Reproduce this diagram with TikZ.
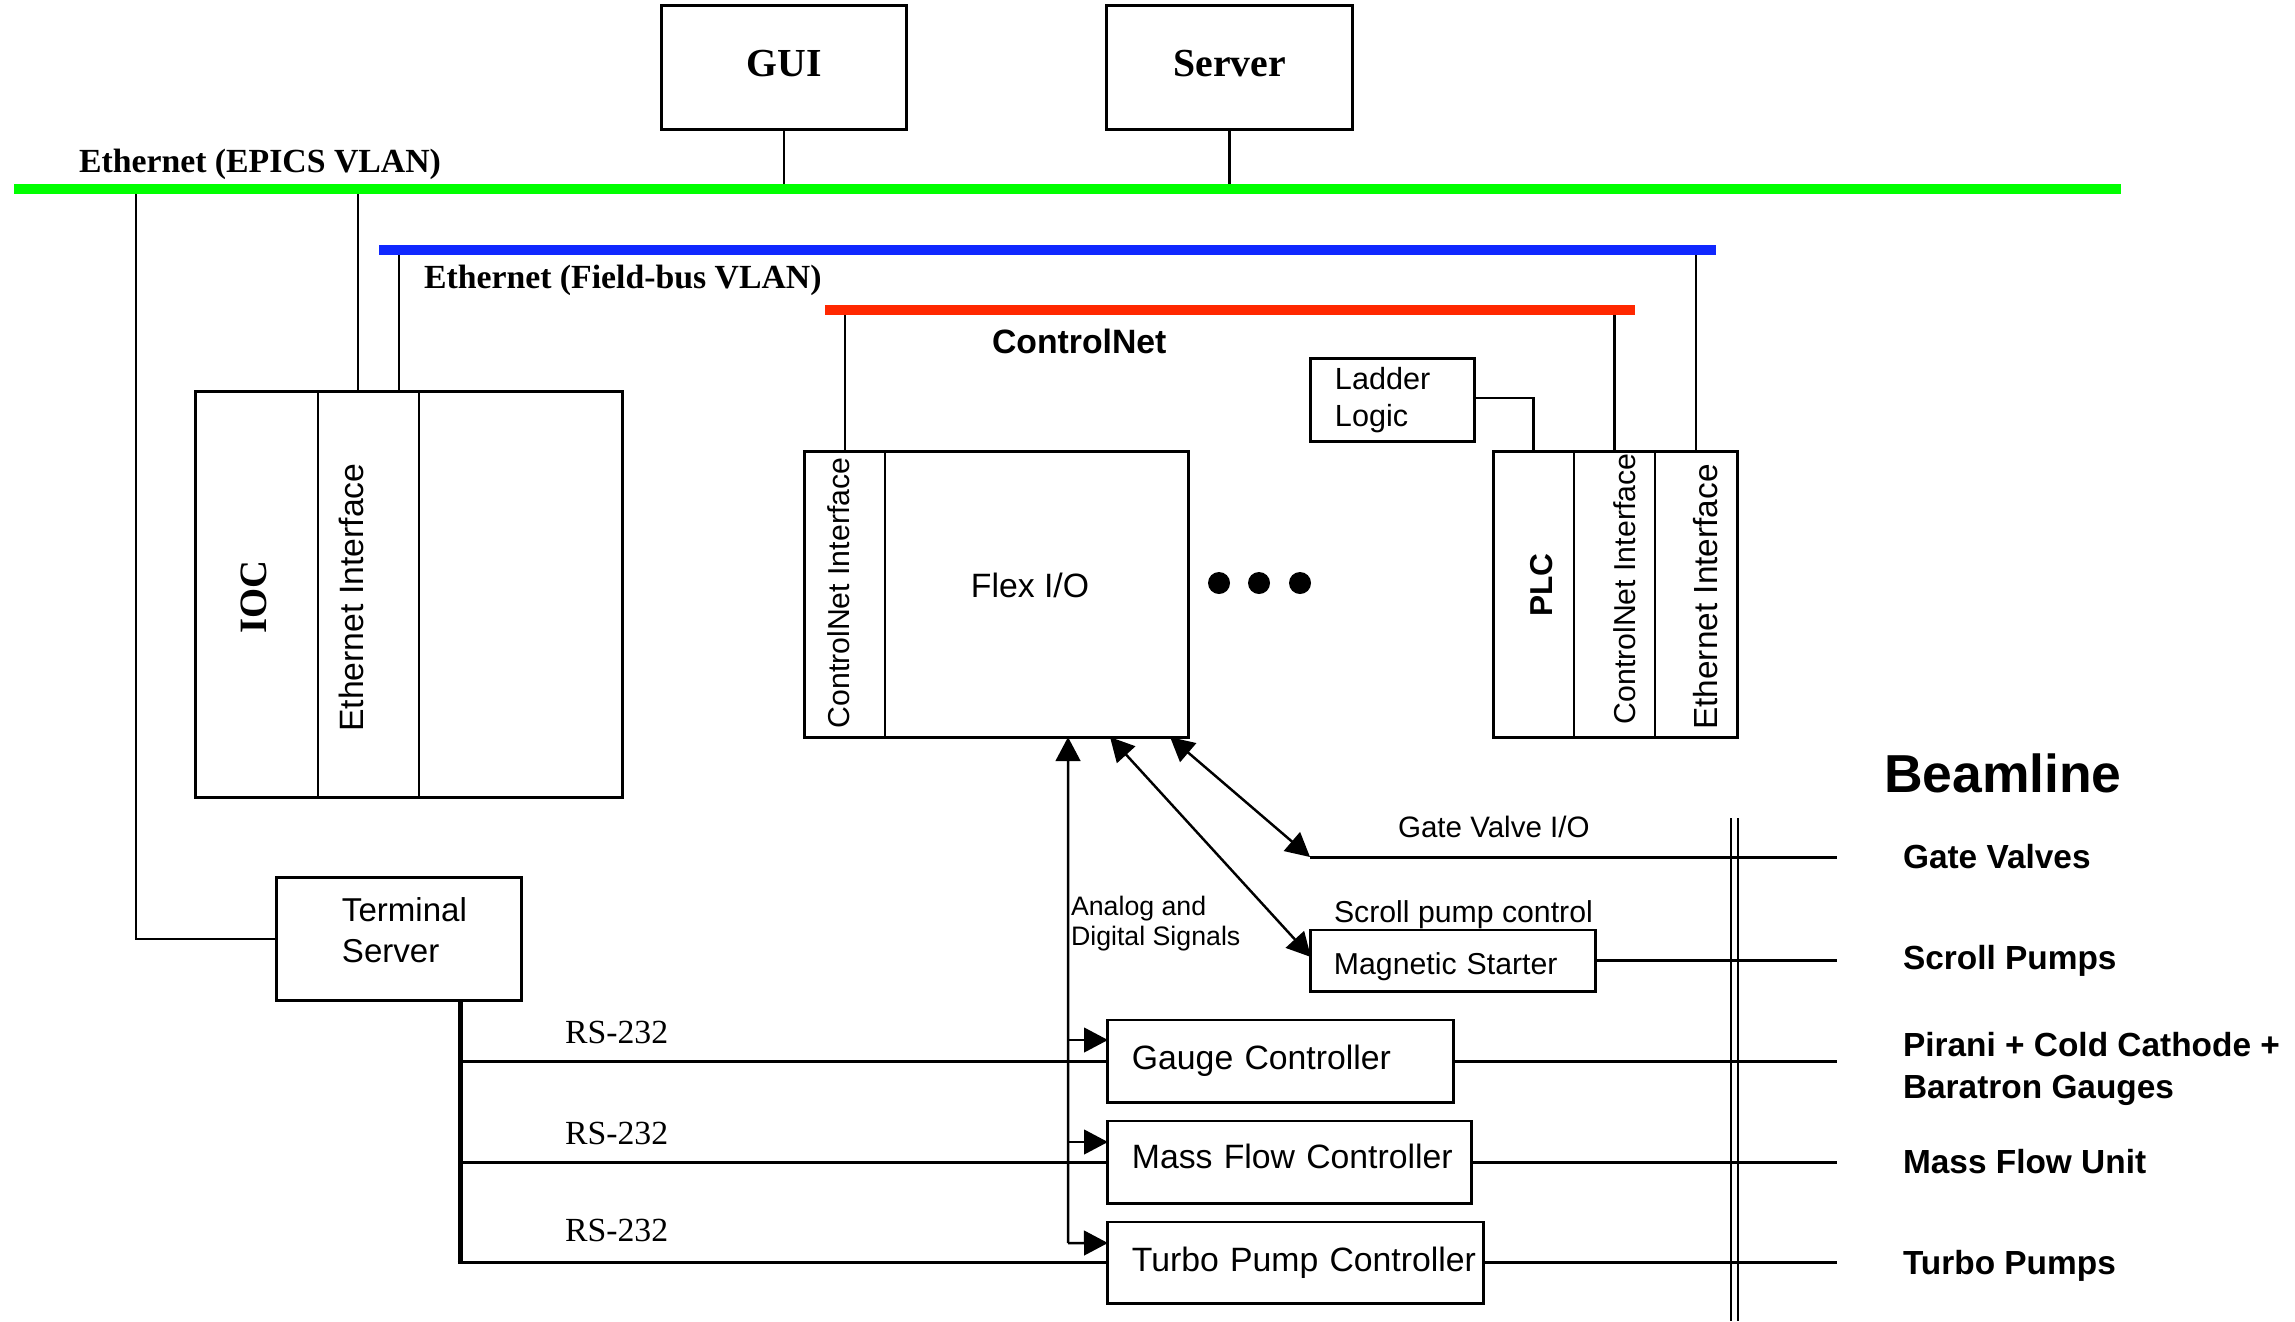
\documentclass[tikz,border=0pt]{standalone}
\usepackage{fontspec}
\setmainfont{Liberation Serif}
\setsansfont{Liberation Sans}
\usetikzlibrary{arrows.meta}
\definecolor{busgreen}{RGB}{0,255,0}
\definecolor{busblue}{RGB}{16,40,255}
\definecolor{busred}{RGB}{255,40,0}
\newcommand{\ind}[1]{\hspace*{#1}}
\begin{document}
\begin{tikzpicture}[x=0.01cm,y=-0.01cm,
  >={Triangle[length=6.8pt,width=7pt]},
  cell/.style={draw, line width=0.55pt, inner sep=0pt, outer sep=0pt},
  frame/.style={line width=0.85pt},
  box/.style={draw, line width=0.85pt, inner sep=0pt, outer sep=0pt},
  lbox/.style={draw, line width=0.85pt, inner sep=0pt, outer sep=0pt, align=left},
  lab/.style={inner sep=0pt, outer sep=0pt},
  drop/.style={line width=0.6pt},
  sig/.style={line width=0.85pt},
  tsline/.style={line width=1.4pt},
  arrl/.style={line width=0.7pt},
  bus/.style={line width=2.85pt},
  sfA/.style={font=\sffamily\fontsize{9.6pt}{11.5pt}\selectfont},
  sfS/.style={font=\sffamily\fontsize{8.6pt}{10.5pt}\selectfont},
  sfB/.style={font=\sffamily\bfseries\fontsize{9.5pt}{12pt}\selectfont},
  rmB/.style={font=\rmfamily\bfseries\fontsize{9.6pt}{11.5pt}\selectfont},
  rmT/.style={font=\rmfamily\bfseries\fontsize{11.3pt}{13pt}\selectfont},
  rmN/.style={font=\rmfamily\fontsize{9.6pt}{11.5pt}\selectfont},
  dotnode/.style={circle, fill, inner sep=0pt, minimum size=0.22cm}
]
\useasboundingbox[fill=white] (0,0) rectangle (2295,1321);

% ---- bus coordinates
\coordinate (gL) at (14,189);   \coordinate (gR) at (2121,189);
\coordinate (bL) at (379,250);  \coordinate (bR) at (1716,250);
\coordinate (rL) at (825,310);  \coordinate (rR) at (1635,310);

% ---- top boxes
\node[box, rmT, text depth=2.6pt, minimum width=2.44cm, minimum height=1.23cm] (gui) at (784,67.5) {GUI};
\node[box, rmT, text depth=2.6pt, minimum width=2.45cm, minimum height=1.23cm] (server) at (1229.5,67.5) {Server};

% ---- IOC
\node[cell, minimum width=1.22cm, minimum height=4.05cm] (iocA) at (257,594.5) {};
\node[cell, minimum width=1.01cm, minimum height=4.05cm] (iocB) at (368.5,594.5) {};
\node[cell, minimum width=2.03cm, minimum height=4.05cm] (iocC) at (520.5,594.5) {};
\draw[frame] (iocA.north west) rectangle (iocC.south east);
\node[lab, rotate=90, anchor=base, font=\rmfamily\bfseries\fontsize{11pt}{13pt}\selectfont] (iocT) at (266,597) {IOC};
\node[lab, rotate=90, anchor=base, sfA] (iocE) at (363,597.5) {Ethernet Interface};

% ---- Flex I/O
\node[cell, minimum width=0.80cm, minimum height=2.85cm] (flexA) at (845,594.5) {};
\node[cell, minimum width=3.03cm, minimum height=2.85cm] (flexB) at (1036.5,594.5) {};
\draw[frame] (flexA.north west) rectangle (flexB.south east);
\node[lab, sfA] (flexT) at (1030,585) {Flex I/O};
\node[lab, rotate=90, anchor=base, sfS] (flexC) at (849,593) {ControlNet Interface};

% ---- PLC
\node[cell, minimum width=0.81cm, minimum height=2.85cm] (plcA) at (1533.5,594.5) {};
\node[cell, minimum width=0.81cm, minimum height=2.85cm] (plcB) at (1614.5,594.5) {};
\node[cell, minimum width=0.82cm, minimum height=2.85cm] (plcC) at (1696,594.5) {};
\draw[frame] (plcA.north west) rectangle (plcC.south east);
\node[lab, rotate=90, anchor=base, font=\sffamily\bfseries\fontsize{9pt}{11pt}\selectfont] (plcT) at (1552,585) {PLC};
\node[lab, rotate=90, anchor=base, sfS] (plcCn) at (1635,589) {ControlNet Interface};
\node[lab, rotate=90, anchor=base, font=\sffamily\fontsize{9.5pt}{11pt}\selectfont] (plcE) at (1717,597) {Ethernet Interface};

% ---- Ladder logic
\node[lbox, text width=1.63cm, minimum height=0.82cm, font=\sffamily\fontsize{8.7pt}{10.5pt}\selectfont] (ladder) at (1392.5,400) {\ind{0.24cm}Ladder\\\ind{0.24cm}Logic};

% ---- dots
\node[dotnode] (dot1) at (1219,583) {};
\node[dotnode] (dot2) at (1259,583) {};
\node[dotnode] (dot3) at (1300,583) {};

% ---- terminal server and devices
\node[lbox, text width=2.44cm, text depth=16.5pt, minimum height=1.22cm, font=\sffamily\fontsize{9.4pt}{11.4pt}\selectfont] (term) at (399,939) {\ind{0.65cm}Terminal\\\ind{0.65cm}Server};
\node[lbox, sfS, text width=2.84cm, text height=10pt, minimum height=0.61cm] (mag) at (1453,960.5) {\ind{0.23cm}Magnetic Starter};
\node[lbox, sfA, text width=3.45cm, minimum height=0.82cm] (gauge) at (1280.5,1061) {\ind{0.24cm}Gauge Controller};
\node[lbox, sfA, text width=3.63cm, text depth=3pt, minimum height=0.82cm] (mass) at (1289.5,1162) {\ind{0.24cm}Mass Flow Controller};
\node[lbox, sfA, text width=3.75cm, minimum height=0.81cm] (turbo) at (1295.5,1262.5) {\ind{0.24cm}Turbo Pump Controller};

% ---- drops from buses (drawn before buses)
\draw[drop] (gui.south) -- (gui.south |- gL);
\draw[drop] (server.south) -- (server.south |- gL);
\coordinate (d1) at ([xshift=-0.105cm]iocB.north);
\coordinate (d2) at ([xshift=0.305cm]iocB.north);
\draw[drop] (d1) -- (d1 |- gL);
\draw[drop] (d2) -- (d2 |- bL);
\coordinate (tdrop) at (136,189);
\draw[drop] (tdrop) |- (term.west);
\draw[drop] (flexA.north) -- (flexA.north |- rL);
\draw[drop] (plcB.north) -- (plcB.north |- rL);
\draw[drop] (plcC.north) -- (plcC.north |- bL);
\draw[drop] ([yshift=0.02cm]ladder.east) -| (plcA.north);

% ---- buses
\draw[bus, busgreen] (gL) -- (gR);
\draw[bus, busblue] (bL) -- (bR);
\draw[bus, busred] (rL) -- (rR);

% ---- bus labels
\node[lab, anchor=base west, rmB] (ethE) at (79,172) {Ethernet (EPICS VLAN)};
\node[lab, anchor=base west, rmB] (ethF) at (424,288) {Ethernet (Field-bus VLAN)};
\node[lab, anchor=base west, font=\sffamily\bfseries\fontsize{9.6pt}{11.5pt}\selectfont] (cnet) at (992,353) {ControlNet};

% ---- RS-232 from terminal server
\coordinate (tsb) at ([xshift=0.61cm]term.south);
\draw[tsline] (tsb) -- (tsb |- turbo.west);
\draw[sig] (tsb |- gauge.west) -- (gauge.west);
\draw[sig] (tsb |- mass.west) -- (mass.west);
\draw[sig] ([xshift=-0.7pt]tsb |- turbo.west) -- (turbo.west);
\node[lab, anchor=base west, rmN] (rs1) at (565,1043) {RS-232};
\node[lab, anchor=base west, rmN] (rs2) at (565,1144) {RS-232};
\node[lab, anchor=base west, rmN] (rs3) at (565,1241) {RS-232};

% ---- analog and digital signals
\coordinate (abus) at (1068,1243);
\coordinate (gaugeIn) at ([yshift=0.21cm]gauge.west);
\coordinate (massIn) at ([yshift=0.20cm]mass.west);
\coordinate (turboIn) at ([yshift=0.195cm]turbo.west);
\draw[arrl,->] (abus) -- ([xshift=1.83cm]flexB.south west);
\draw[arrl,->] (abus |- gaugeIn) -- (gaugeIn);
\draw[arrl,->] (abus |- massIn) -- (massIn);
\draw[arrl,->] (abus) -- (turboIn);
\node[lab, anchor=north west, align=left, font=\sffamily\fontsize{7.6pt}{8.5pt}\selectfont] (anl) at (1071,896) {Analog and\\Digital Signals};

% ---- scroll pump control and gate valve I/O
\draw[arrl,<->] ([xshift=2.25cm]flexB.south west) -- ([yshift=0.035cm]mag.west);
\coordinate (gvA) at (1310,857);
\draw[arrl,<->] ([xshift=2.85cm]flexB.south west) -- (gvA);
\node[lab, anchor=base west, font=\sffamily\fontsize{8.4pt}{10pt}\selectfont] (gvio) at (1398,837) {Gate Valve I/O};
\node[lab, anchor=base west, sfS] (spc) at (1334,922) {Scroll pump control};

% ---- beamline
\coordinate (beamEnd) at (1837,818);
\coordinate (bl1t) at (1731,818); \coordinate (bl1b) at (1731,1321);
\coordinate (bl2t) at (1738,818); \coordinate (bl2b) at (1738,1321);
\draw[drop] (bl1t) -- (bl1b);
\draw[drop] (bl2t) -- (bl2b);
\draw[sig] (gvA) -- (gvA -| beamEnd);
\draw[sig] (mag.east) -- (mag.east -| beamEnd);
\draw[sig] (gauge.east) -- (gauge.east -| beamEnd);
\draw[sig] (mass.east) -- (mass.east -| beamEnd);
\draw[sig] (turbo.east) -- (turbo.east -| beamEnd);

\node[lab, anchor=base west, font=\sffamily\bfseries\fontsize{15.2pt}{18pt}\selectfont] (beam) at (1884,792) {Beamline};
\node[lab, anchor=base west, sfB] (gv) at (1903,868) {Gate Valves};
\node[lab, anchor=base west, sfB] (sp) at (1903,969) {Scroll Pumps};
\node[lab, anchor=north west, align=left, sfB] (pir) at (1903,1032) {Pirani + Cold Cathode +\\Baratron Gauges};
\node[lab, anchor=base west, sfB] (mfu) at (1903,1173) {Mass Flow Unit};
\node[lab, anchor=base west, sfB] (tp) at (1903,1274) {Turbo Pumps};
\end{tikzpicture}
\end{document}
